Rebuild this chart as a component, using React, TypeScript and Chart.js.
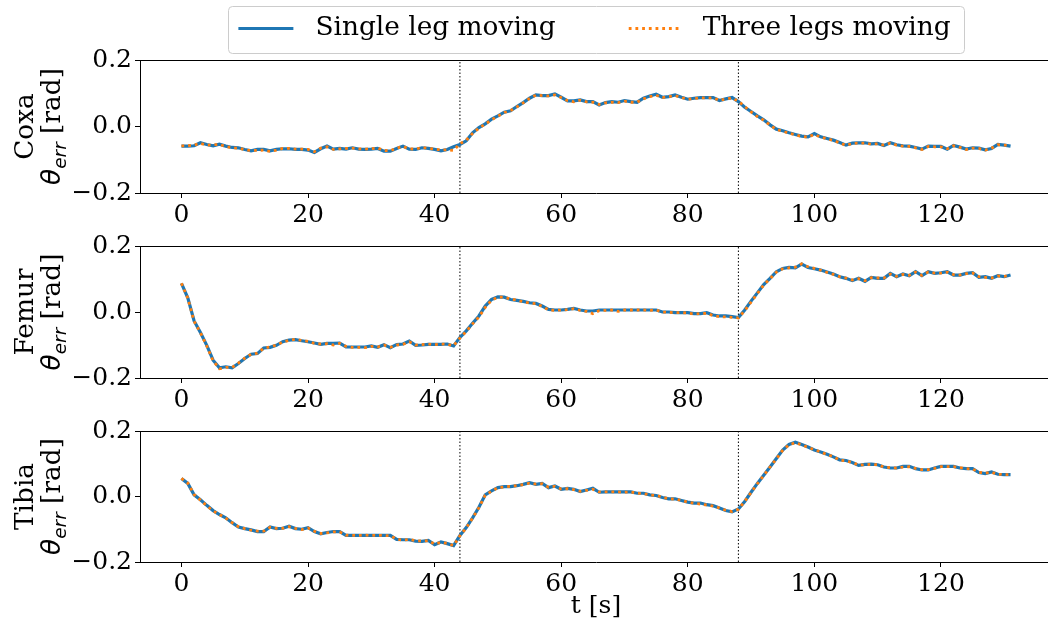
import React, { useEffect, useRef } from "react";
import { Chart, registerables } from "chart.js";

Chart.register(...registerables);

// ---------------- data ----------------
const TIME_S = Array.from({ length: 132 }, (_, i) => i);
const X_TICKS = [0, 20, 40, 60, 80, 100, 120];
const Y_TICKS = [-0.2, 0, 0.2];
const X_MIN = -6.55;
const X_MAX = 137.55;
const Y_MIN = -0.2;
const Y_MAX = 0.2;
const PHASE_BOUNDARIES = [44, 88];
const JOINTS = ["Coxa", "Femur", "Tibia"];
const SERIES_LABELS = ["Single leg moving", "Three legs moving"];
const X_TITLE = "t [s]";

const COXA_SINGLE = [
  -0.059, -0.059, -0.058, -0.049, -0.054, -0.058, -0.053, -0.059, -0.063, -0.064,
  -0.069, -0.073, -0.069, -0.069, -0.073, -0.069, -0.067, -0.067, -0.069, -0.069,
  -0.071, -0.078, -0.067, -0.059, -0.068, -0.066, -0.068, -0.064, -0.068, -0.069,
  -0.068, -0.066, -0.074, -0.074, -0.066, -0.059, -0.068, -0.069, -0.064, -0.066,
  -0.069, -0.073, -0.069, -0.061, -0.054, -0.043, -0.019, -0.003, 0.008, 0.022,
  0.032, 0.043, 0.047, 0.06, 0.072, 0.085, 0.095, 0.093, 0.093, 0.098,
  0.088, 0.077, 0.077, 0.08, 0.075, 0.075, 0.065, 0.072, 0.075, 0.073,
  0.078, 0.075, 0.073, 0.085, 0.092, 0.097, 0.088, 0.09, 0.095, 0.088,
  0.082, 0.085, 0.087, 0.087, 0.087, 0.078, 0.083, 0.087, 0.075, 0.058,
  0.045, 0.032, 0.02, 0.005, -0.008, -0.013, -0.019, -0.024, -0.029, -0.031,
  -0.021, -0.031, -0.036, -0.041, -0.048, -0.056, -0.05, -0.049, -0.049, -0.052,
  -0.051, -0.057, -0.049, -0.055, -0.058, -0.059, -0.063, -0.068, -0.059, -0.06,
  -0.06, -0.068, -0.057, -0.062, -0.068, -0.064, -0.065, -0.07, -0.066, -0.054,
  -0.056, -0.059,
];
const COXA_THREE = [
  -0.058, -0.058, -0.056, -0.051, -0.056, -0.055, -0.054, -0.06, -0.064, -0.065,
  -0.07, -0.072, -0.072, -0.071, -0.075, -0.071, -0.066, -0.066, -0.068, -0.068,
  -0.069, -0.076, -0.065, -0.061, -0.069, -0.067, -0.066, -0.065, -0.067, -0.068,
  -0.067, -0.065, -0.072, -0.073, -0.065, -0.06, -0.067, -0.068, -0.063, -0.066,
  -0.068, -0.071, -0.07, -0.072, -0.052, -0.041, -0.021, -0.005, 0.007, 0.02,
  0.031, 0.042, 0.048, 0.059, 0.071, 0.084, 0.094, 0.093, 0.092, 0.095,
  0.087, 0.078, 0.074, 0.079, 0.074, 0.073, 0.066, 0.071, 0.073, 0.072,
  0.076, 0.073, 0.073, 0.083, 0.09, 0.094, 0.087, 0.09, 0.093, 0.087,
  0.082, 0.084, 0.086, 0.086, 0.086, 0.079, 0.082, 0.086, 0.076, 0.06,
  0.044, 0.03, 0.019, 0.004, -0.009, -0.014, -0.02, -0.025, -0.03, -0.032,
  -0.024, -0.032, -0.037, -0.042, -0.049, -0.057, -0.051, -0.05, -0.05, -0.053,
  -0.052, -0.056, -0.05, -0.056, -0.059, -0.06, -0.064, -0.069, -0.06, -0.061,
  -0.061, -0.067, -0.058, -0.063, -0.069, -0.065, -0.066, -0.071, -0.065, -0.055,
  -0.056, -0.058,
];
const FEMUR_SINGLE = [
  0.087, 0.043, -0.027, -0.062, -0.101, -0.146, -0.169, -0.166, -0.169, -0.156,
  -0.141, -0.128, -0.126, -0.109, -0.107, -0.101, -0.09, -0.085, -0.084, -0.087,
  -0.09, -0.094, -0.098, -0.095, -0.095, -0.094, -0.106, -0.106, -0.106, -0.106,
  -0.103, -0.107, -0.099, -0.108, -0.099, -0.097, -0.088, -0.101, -0.1, -0.098,
  -0.098, -0.098, -0.097, -0.103, -0.077, -0.057, -0.034, -0.012, 0.018, 0.038,
  0.046, 0.045, 0.038, 0.035, 0.032, 0.028, 0.026, 0.018, 0.008, 0.006,
  0.006, 0.008, 0.011, 0.006, 0.003, 0.003, 0.006, 0.006, 0.006, 0.006,
  0.006, 0.006, 0.006, 0.006, 0.006, 0.006, 0.0, 0.0, -0.002, -0.002,
  -0.002, -0.005, -0.005, -0.002, -0.009, -0.012, -0.012, -0.014, -0.017, 0.006,
  0.033, 0.058, 0.083, 0.102, 0.122, 0.132, 0.135, 0.134, 0.145, 0.135,
  0.131, 0.127, 0.121, 0.115, 0.107, 0.102, 0.095, 0.102, 0.093, 0.105,
  0.102, 0.102, 0.117, 0.107, 0.115, 0.11, 0.122, 0.11, 0.122, 0.117,
  0.119, 0.122, 0.112, 0.112, 0.117, 0.119, 0.105, 0.107, 0.102, 0.11,
  0.107, 0.112,
];
const FEMUR_THREE = [
  0.087, 0.042, -0.028, -0.063, -0.103, -0.148, -0.172, -0.168, -0.168, -0.155,
  -0.14, -0.128, -0.125, -0.11, -0.106, -0.1, -0.091, -0.086, -0.083, -0.086,
  -0.089, -0.095, -0.097, -0.096, -0.1, -0.095, -0.104, -0.107, -0.107, -0.108,
  -0.104, -0.106, -0.1, -0.107, -0.1, -0.098, -0.09, -0.1, -0.099, -0.097,
  -0.099, -0.097, -0.098, -0.102, -0.079, -0.059, -0.036, -0.015, 0.014, 0.036,
  0.045, 0.045, 0.039, 0.036, 0.031, 0.027, 0.025, 0.017, 0.007, 0.005,
  0.006, 0.007, 0.01, 0.005, 0.002, -0.005, 0.004, 0.005, 0.006, 0.002,
  0.006, 0.006, 0.006, 0.006, 0.005, 0.006, 0.0, -0.001, -0.002, -0.002,
  -0.003, -0.006, -0.005, -0.004, -0.011, -0.014, -0.015, -0.016, -0.018, 0.004,
  0.03, 0.056, 0.082, 0.101, 0.121, 0.131, 0.134, 0.136, 0.146, 0.137,
  0.132, 0.127, 0.12, 0.114, 0.107, 0.103, 0.097, 0.101, 0.095, 0.104,
  0.103, 0.103, 0.115, 0.108, 0.114, 0.111, 0.121, 0.111, 0.121, 0.118,
  0.118, 0.121, 0.113, 0.112, 0.116, 0.118, 0.107, 0.105, 0.103, 0.109,
  0.108, 0.111,
];
const TIBIA_SINGLE = [
  0.055, 0.04, 0.005, -0.01, -0.027, -0.043, -0.055, -0.065, -0.08, -0.093,
  -0.098, -0.102, -0.107, -0.107, -0.093, -0.098, -0.097, -0.091, -0.098, -0.1,
  -0.095, -0.107, -0.114, -0.11, -0.107, -0.107, -0.119, -0.119, -0.119, -0.119,
  -0.119, -0.119, -0.119, -0.119, -0.131, -0.132, -0.132, -0.136, -0.137, -0.134,
  -0.147, -0.139, -0.144, -0.15, -0.119, -0.095, -0.065, -0.033, 0.005, 0.017,
  0.027, 0.03, 0.03, 0.033, 0.037, 0.042, 0.037, 0.04, 0.027, 0.032,
  0.022, 0.025, 0.022, 0.015, 0.02, 0.025, 0.013, 0.014, 0.014, 0.014,
  0.014, 0.014, 0.01, 0.01, 0.005, 0.003, -0.003, -0.007, -0.007, -0.012,
  -0.017, -0.02, -0.02, -0.025, -0.028, -0.035, -0.043, -0.047, -0.038, -0.015,
  0.013, 0.04, 0.065, 0.09, 0.116, 0.142, 0.159, 0.166, 0.159, 0.151,
  0.142, 0.136, 0.129, 0.121, 0.112, 0.11, 0.104, 0.095, 0.098, 0.099,
  0.097, 0.09, 0.087, 0.087, 0.092, 0.092, 0.085, 0.081, 0.081, 0.087,
  0.092, 0.092, 0.092, 0.087, 0.085, 0.085, 0.073, 0.07, 0.075, 0.068,
  0.067, 0.067,
];
const TIBIA_THREE = [
  0.055, 0.041, 0.006, -0.011, -0.028, -0.044, -0.055, -0.066, -0.08, -0.092,
  -0.098, -0.103, -0.106, -0.106, -0.094, -0.097, -0.097, -0.092, -0.097, -0.101,
  -0.096, -0.106, -0.113, -0.111, -0.108, -0.108, -0.118, -0.119, -0.119, -0.118,
  -0.119, -0.119, -0.119, -0.12, -0.13, -0.133, -0.131, -0.135, -0.136, -0.135,
  -0.145, -0.14, -0.143, -0.15, -0.12, -0.096, -0.066, -0.034, 0.004, 0.016,
  0.027, 0.029, 0.031, 0.033, 0.036, 0.041, 0.038, 0.039, 0.028, 0.031,
  0.023, 0.024, 0.021, 0.016, 0.019, 0.022, 0.014, 0.014, 0.014, 0.014,
  0.013, 0.014, 0.01, 0.009, 0.005, 0.003, -0.002, -0.007, -0.008, -0.012,
  -0.017, -0.021, -0.023, -0.026, -0.029, -0.035, -0.042, -0.046, -0.039, -0.015,
  0.012, 0.039, 0.064, 0.09, 0.115, 0.141, 0.158, 0.164, 0.158, 0.15,
  0.143, 0.136, 0.128, 0.122, 0.111, 0.109, 0.104, 0.096, 0.097, 0.098,
  0.097, 0.09, 0.088, 0.087, 0.09, 0.091, 0.086, 0.082, 0.082, 0.086,
  0.091, 0.091, 0.091, 0.088, 0.085, 0.084, 0.074, 0.071, 0.074, 0.068,
  0.067, 0.067,
];

const PANEL_SERIES = [
  [COXA_SINGLE, COXA_THREE],
  [FEMUR_SINGLE, FEMUR_THREE],
  [TIBIA_SINGLE, TIBIA_THREE],
];

// ---------------- styles / layout ----------------
const SERIF = '"DejaVu Serif", serif';
const SANS = '"DejaVu Sans", sans-serif';
const TICK_SIZE = 25;
const LABEL_SIZE = 26.4;
const BLUE = "#1f77b4";
const ORANGE = "#ff7f0e";
const CANVAS_W = 1052;
const PAD_LEFT = 74;
const Y_AXIS_W = 66;
const PANEL_BOXES = [
  { top: 0, height: 228, padTop: 0, xHeight: 35 },
  { top: 228, height: 185, padTop: 16, xHeight: 35 },
  { top: 413, height: 208, padTop: 15, xHeight: 59 },
];
const LEGEND_BOX_W = 126.8;
const SAMPLE_OFFSET = [63, 66];
const SAMPLE_LEN = [55, 50];

const fmtY = (v: number) =>
  (v < -1e-9 ? "\u2212" : "") + Math.abs(v).toFixed(1);

function makeTextPlugin(panel: number) {
  return {
    id: "panelText" + panel,
    afterDraw(chart: any) {
      const { ctx, chartArea } = chart;
      const { top, bottom, left, right } = chartArea;
      const cy = (top + bottom) / 2;
      ctx.save();
      // top spine
      ctx.strokeStyle = "#000";
      ctx.lineWidth = 1;
      ctx.beginPath();
      ctx.moveTo(left, Math.floor(top) + 0.5);
      ctx.lineTo(right, Math.floor(top) + 0.5);
      ctx.stroke();
      ctx.fillStyle = "#000";
      ctx.textBaseline = "alphabetic";
      // line 1: joint name
      ctx.save();
      ctx.translate(left - 107, cy);
      ctx.rotate(-Math.PI / 2);
      ctx.font = `${LABEL_SIZE}px ${SERIF}`;
      ctx.textAlign = "center";
      ctx.fillText(JOINTS[panel], 0, 0);
      ctx.restore();
      // line 2: theta_err [rad]
      ctx.save();
      ctx.translate(left - 80, cy);
      ctx.rotate(-Math.PI / 2);
      ctx.textAlign = "left";
      const fTheta = `italic ${LABEL_SIZE}px ${SANS}`;
      const fSub = `italic ${LABEL_SIZE * 0.7}px ${SANS}`;
      const fRad = `${LABEL_SIZE}px ${SERIF}`;
      ctx.font = fTheta;
      const w1 = ctx.measureText("\u03b8").width;
      ctx.font = fSub;
      const w2 = ctx.measureText("err").width;
      ctx.font = fRad;
      const w3 = ctx.measureText(" [rad]").width;
      let x = -(w1 + w2 + w3) / 2;
      ctx.font = fTheta;
      ctx.fillText("\u03b8", x, 0);
      x += w1;
      ctx.font = fSub;
      ctx.fillText("err", x, 5.5);
      x += w2;
      ctx.font = fRad;
      ctx.fillText(" [rad]", x, 0);
      ctx.restore();

      // legend frame + samples
      if (chart.legend && chart.options.plugins.legend.display) {
        const hb = chart.legend.legendHitBoxes;
        if (hb && hb.length) {
          const first = hb[0];
          const last = hb[hb.length - 1];
          const lcy = first.top + first.height / 2;
          const fl = Math.round(first.left + SAMPLE_OFFSET[0] - 10) + 0.5;
          const fr = Math.round(last.left + last.width + 13) + 0.5;
          const ft = Math.round(lcy - 23) + 0.5;
          const fb = Math.round(lcy + 24) + 0.5;
          ctx.strokeStyle = "#cccccc";
          ctx.lineWidth = 1;
          ctx.beginPath();
          (ctx as any).roundRect(fl, ft, fr - fl, fb - ft, 4);
          ctx.stroke();
          hb.forEach((b: any, i: number) => {
            const ds = chart.data.datasets[i];
            ctx.save();
            ctx.strokeStyle = ds.borderColor;
            ctx.lineWidth = ds.borderWidth;
            ctx.setLineDash(ds.borderDash || []);
            ctx.beginPath();
            const sx = b.left + SAMPLE_OFFSET[i];
            ctx.moveTo(sx, lcy);
            ctx.lineTo(sx + SAMPLE_LEN[i], lcy);
            ctx.stroke();
            ctx.restore();
          });
        }
      }
      ctx.restore();
    },
  };
}

function buildConfig(panel: number): any {
  const box = PANEL_BOXES[panel];
  const [single, three] = PANEL_SERIES[panel];
  const isFirst = panel === 0;
  const isLast = panel === PANEL_BOXES.length - 1;
  const datasets: any[] = [
    {
      label: SERIES_LABELS[0],
      data: TIME_S.map((t, i) => ({ x: t, y: single[i] })),
      borderColor: BLUE,
      borderWidth: 3.2,
      pointRadius: 0,
      tension: 0,
      order: 1,
    },
    {
      label: SERIES_LABELS[1],
      data: TIME_S.map((t, i) => ({ x: t, y: three[i] })),
      borderColor: ORANGE,
      borderWidth: 2.8,
      borderDash: [2.8, 3.9],
      pointRadius: 0,
      tension: 0,
      order: 0,
    },
    ...PHASE_BOUNDARIES.map((b) => ({
      label: "",
      data: [
        { x: b, y: Y_MIN },
        { x: b, y: Y_MAX },
      ],
      borderColor: "#000",
      borderWidth: 1,
      borderDash: [1.5, 2],
      pointRadius: 0,
      order: 2,
    })),
  ];
  const tickFont = { family: SERIF, size: TICK_SIZE };
  return {
    type: "line",
    data: { datasets },
    options: {
      animation: false,
      responsive: false,
      devicePixelRatio: 1,
      events: [],
      layout: { padding: { top: box.padTop, left: PAD_LEFT, right: 0, bottom: 0 } },
      plugins: {
        tooltip: { enabled: false },
        title: { display: false },
        legend: {
          display: isFirst,
          position: "top",
          align: "center",
          labels: {
            font: { family: SERIF, size: LABEL_SIZE },
            color: "#000",
            boxWidth: LEGEND_BOX_W,
            boxHeight: 43,
            padding: 7,
            generateLabels: () =>
              SERIES_LABELS.map((text, i) => ({
                text,
                datasetIndex: i,
                fillStyle: "rgba(0,0,0,0)",
                strokeStyle: "rgba(0,0,0,0)",
                lineWidth: 0,
                hidden: false,
                fontColor: "#000",
              })),
          },
        },
      },
      scales: {
        x: {
          type: "linear",
          min: X_MIN,
          max: X_MAX,
          afterBuildTicks: (s: any) => {
            s.ticks = X_TICKS.map((v) => ({ value: v }));
          },
          afterFit: (s: any) => {
            s.height = box.xHeight;
          },
          ticks: {
            font: tickFont,
            color: "#000",
            padding: 2,
            maxRotation: 0,
            autoSkip: false,
            callback: (v: number) => String(v),
          },
          grid: {
            display: true,
            drawOnChartArea: false,
            drawTicks: true,
            tickLength: 5,
            color: "#000",
            lineWidth: 1,
          },
          border: { display: true, color: "#000", width: 1 },
          title: {
            display: isLast,
            text: X_TITLE,
            color: "#000",
            font: { family: SERIF, size: TICK_SIZE },
            padding: { top: 0, bottom: 0 },
          },
        },
        y: {
          type: "linear",
          min: Y_MIN,
          max: Y_MAX,
          afterBuildTicks: (s: any) => {
            s.ticks = Y_TICKS.map((v) => ({ value: v }));
          },
          afterFit: (s: any) => {
            s.width = Y_AXIS_W;
          },
          ticks: {
            font: tickFont,
            color: "#000",
            padding: 3,
            callback: (v: number) => fmtY(v),
          },
          grid: {
            display: true,
            drawOnChartArea: false,
            drawTicks: true,
            tickLength: 5,
            color: "#000",
            lineWidth: 1,
          },
          border: { display: true, color: "#000", width: 1 },
        },
      },
    },
    plugins: [makeTextPlugin(panel)],
  };
}

export default function App() {
  const canvases = useRef<(HTMLCanvasElement | null)[]>([]);
  useEffect(() => {
    const charts = PANEL_BOXES.map(
      (_, i) => new Chart(canvases.current[i] as HTMLCanvasElement, buildConfig(i))
    );
    return () => charts.forEach((c) => c.destroy());
  }, []);
  return (
    <div
      style={{
        position: "fixed",
        left: 0,
        top: 0,
        width: 1048,
        height: 621,
        overflow: "hidden",
        background: "#fff",
      }}
    >
      {PANEL_BOXES.map((b, i) => (
        <canvas
          key={i}
          ref={(el) => {
            canvases.current[i] = el;
          }}
          width={CANVAS_W}
          height={b.height}
          style={{
            position: "absolute",
            left: 0,
            top: b.top,
            width: CANVAS_W,
            height: b.height,
          }}
        />
      ))}
    </div>
  );
}
